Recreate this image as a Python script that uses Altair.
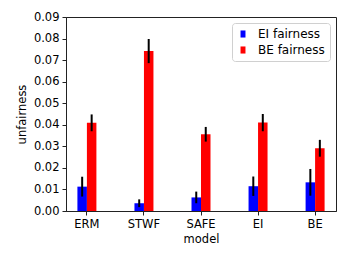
import altair as alt
import pandas as pd

models = ["ERM", "STWF", "SAFE", "EI", "BE"]
series = ["EI fairness", "BE fairness"]
ei_mean = [0.0113, 0.0036, 0.0063, 0.0115, 0.0133]
ei_err = [0.0046, 0.0018, 0.0027, 0.0045, 0.0062]
be_mean = [0.0409, 0.0742, 0.0356, 0.0410, 0.0291]
be_err = [0.0039, 0.0056, 0.0034, 0.0040, 0.0039]
y_ticks = [0.00, 0.01, 0.02, 0.03, 0.04, 0.05, 0.06, 0.07, 0.08, 0.09]

rows = []
for i, m in enumerate(models):
    rows.append({"model": m, "metric": series[0], "mean": ei_mean[i],
                 "lo": ei_mean[i] - ei_err[i], "hi": ei_mean[i] + ei_err[i]})
    rows.append({"model": m, "metric": series[1], "mean": be_mean[i],
                 "lo": be_mean[i] - be_err[i], "hi": be_mean[i] + be_err[i]})
df = pd.DataFrame(rows)

font = "DejaVu Sans"
fs = 11.5

x_axis = alt.Axis(labelAngle=0, labelFontSize=fs, titleFontSize=fs,
                  titleFontWeight="normal", tickSize=4, labelPadding=3,
                  titlePadding=4)
x_scale = alt.Scale(paddingInner=0.667, paddingOuter=0.2)
y_axis = alt.Axis(values=y_ticks, format=".2f", labelFontSize=fs,
                  labelOverlap=False, labelFlush=False, tickCount=10,
                  titleFontSize=fs, titleFontWeight="normal", tickSize=4,
                  labelPadding=3, titlePadding=6)
y_scale = alt.Scale(domain=[0, 0.09], nice=False)
xoff = alt.XOffset("metric:N", sort=series, scale=alt.Scale(paddingInner=0, paddingOuter=0))

bars = alt.Chart(df).mark_bar().encode(
    x=alt.X("model:N", sort=models, title="model", scale=x_scale, axis=x_axis),
    xOffset=xoff,
    y=alt.Y("mean:Q", title="unfairness", scale=y_scale, axis=y_axis),
    color=alt.Color("metric:N", sort=series,
                    scale=alt.Scale(domain=series, range=["#0000ff", "#ff0000"]),
                    legend=alt.Legend(title=None, orient="top-right", offset=6,
                                      padding=5, rowPadding=4, labelFontSize=12,
                                      symbolType="M-0.7,-1H0.7V1H-0.7Z", symbolSize=50,
                                      symbolStrokeWidth=0, labelOffset=9,
                                      strokeColor="#d0d0d0", fillColor="white",
                                      cornerRadius=3, labelColor="black",
                                      labelFont=font)),
)

errs = alt.Chart(df).mark_rule(color="black", strokeWidth=2).encode(
    x=alt.X("model:N", sort=models, title="model", scale=x_scale, axis=x_axis),
    xOffset=xoff,
    y=alt.Y("lo:Q", title="unfairness", scale=y_scale, axis=y_axis),
    y2="hi:Q",
)

chart = alt.layer(bars, errs).properties(
    width=270, height=194,
    autosize=alt.AutoSizeParams(type="none"),
    padding={"left": 58, "top": 9, "right": 5, "bottom": 43},
).configure_view(stroke="#222222", strokeWidth=1).configure_axis(
    grid=False, domainColor="#222222", tickColor="#222222", labelColor="black",
    titleColor="black", labelFont=font, titleFont=font, domainWidth=1, tickWidth=1,
).configure_legend(labelFont=font)

chart.save("out.html", embed_options={"renderer": "svg", "actions": False})
